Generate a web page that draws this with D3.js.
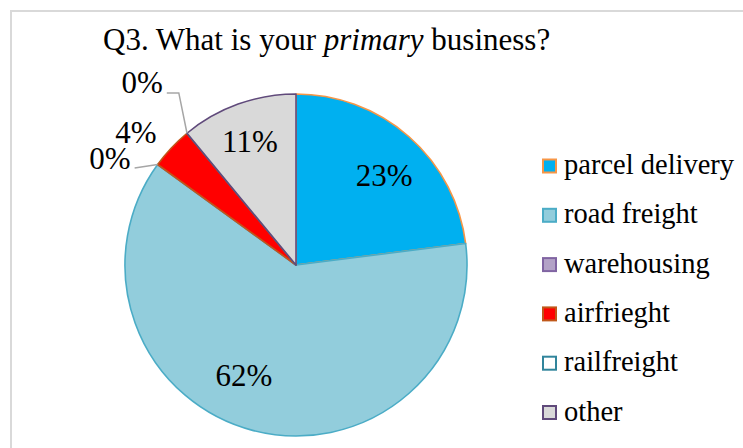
<!DOCTYPE html>
<html>
<head>
<meta charset="utf-8">
<script src="https://cdn.jsdelivr.net/npm/d3@7"></script>
<style>
  html, body { margin: 0; padding: 0; background: #fff; }
  svg text { font-family: "Liberation Serif", "Times New Roman", serif; fill: #000; }
</style>
</head>
<body>
<svg id="chart" width="743" height="448"></svg>
<script>
// Survey answers, Q3: primary business (share of respondents, %)
const categories = ["parcel delivery", "road freight", "warehousing", "airfrieght", "railfreight", "other"];
const shares = [23, 62, 0, 4, 0, 11];
const titleParts = [
  { text: "Q3. What is your ", italic: false },
  { text: "primary", italic: true },
  { text: " business?", italic: false }
];

// Slice fills and outlines
const fills = ["#00B0F0", "#92CDDC", "#B3A2C7", "#FF0000", "#FFFFFF", "#D9D9D9"];
const outlines = ["#F79646", "#4BACC6", "#8064A2", "#C0581A", "#31859C", "#604A7B"];

// Label placement: angular nudge (deg) from slice middle, radius as fraction of pie radius,
// and whether a leader line ties the label to its slice.
const labelLayout = [
  { nudge: 3.0, rf: 0.736, leader: false },
  { nudge: 10.9, rf: 0.712, leader: false },
  { nudge: -6.1, rf: 1.255, leader: true, elbow: 0 },
  { nudge: -3.6, rf: 1.215, leader: false },
  { nudge: -0.6, rf: 1.394, leader: true, elbow: 12 },
  { nudge: -0.7, rf: 0.77, leader: false }
];

const svg = d3.select("#chart");
const cx = 296, cy = 265, radius = 171;

// Chart area frame (runs off the right and bottom edges)
svg.append("rect")
  .attr("x", 11).attr("y", 11)
  .attr("width", 800).attr("height", 500)
  .attr("fill", "none")
  .attr("stroke", "#D9D9D9")
  .attr("stroke-width", 2);

// Title
const title = svg.append("text")
  .attr("x", 103).attr("y", 50)
  .style("font-size", "31px");
title.selectAll("tspan")
  .data(titleParts)
  .join("tspan")
  .style("font-style", d => d.italic ? "italic" : "normal")
  .text(d => d.text);

// Pie
const pie = d3.pie().sort(null).value(d => d)(shares);
const arc = d3.arc().innerRadius(0).outerRadius(radius);
const g = svg.append("g").attr("transform", `translate(${cx},${cy})`);

g.selectAll("path.slice")
  .data(pie)
  .join("path")
  .attr("class", "slice")
  .attr("d", arc)
  .attr("fill", (d, i) => fills[i])
  .attr("stroke", (d, i) => outlines[i])
  .attr("stroke-width", 1.6)
  .attr("stroke-linejoin", "round");

const deg = Math.PI / 180;
const polar = (a, r) => [Math.sin(a) * r, -Math.cos(a) * r];

// Data labels
pie.forEach((d, i) => {
  const L = labelLayout[i];
  const mid = (d.startAngle + d.endAngle) / 2;
  const [lx, ly] = polar(mid + L.nudge * deg, radius * L.rf);
  const t = g.append("text")
    .attr("x", lx)
    .attr("y", ly)
    .attr("dy", "0.34em")
    .attr("text-anchor", "middle")
    .style("font-size", "31px")
    .text(shares[i] + "%");

  if (L.leader) {
    const bb = t.node().getBBox();
    const x0 = bb.x + bb.width + 4;
    const y0 = ly + 10;
    const [ex, ey] = polar(d.startAngle, radius);
    const pts = [[x0, y0]];
    if (L.elbow) pts.push([x0 + L.elbow, y0]);
    pts.push([ex, ey]);
    g.append("path")
      .attr("d", d3.line()(pts))
      .attr("fill", "none")
      .attr("stroke", "#A6A6A6")
      .attr("stroke-width", 1.5);
  }
});

// Legend
const legend = svg.append("g").attr("transform", "translate(542,166)");
const rowStep = 49.3;
const rows = legend.selectAll("g")
  .data(categories)
  .join("g")
  .attr("transform", (d, i) => `translate(0,${i * rowStep})`);
rows.append("rect")
  .attr("x", 1).attr("y", -6.5)
  .attr("width", 13).attr("height", 13)
  .attr("fill", (d, i) => fills[i])
  .attr("stroke", (d, i) => outlines[i])
  .attr("stroke-width", 2);
rows.append("text")
  .attr("x", 22)
  .attr("y", 8)
  .style("font-size", "28.5px")
  .text(d => d);
</script>
</body>
</html>
